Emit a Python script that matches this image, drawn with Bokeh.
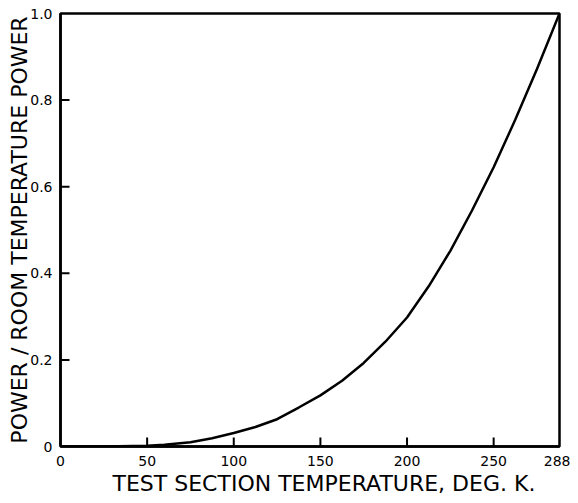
from bokeh.plotting import figure
from bokeh.embed import file_html
from bokeh.resources import INLINE
from bokeh.models import Range1d, FixedTicker, Title

# Data (temperature in K, power ratio)
temperature = [0, 25, 50, 60, 75, 87.5, 100, 112.5, 125, 137.5, 150, 162.5, 175,
               187.5, 200, 212.5, 225, 237.5, 250, 262.5, 275, 288]
power_ratio = [0.0, 0.0, 0.002, 0.004, 0.010, 0.019, 0.031, 0.045, 0.063, 0.09, 0.118,
               0.152, 0.193, 0.242, 0.298, 0.37, 0.452, 0.545, 0.645, 0.755, 0.872, 1.0]

x_ticks = [0, 50, 100, 150, 200, 250, 288]
x_tick_labels = ["0", "50", "100", "150", "200", "250", "288"]
y_ticks = [0, 0.2, 0.4, 0.6, 0.8, 1.0]
y_tick_labels = ["0", "0.2", "0.4", "0.6", "0.8", "1.0"]

FONT = "DejaVu Sans"
X_MAX, Y_MAX = 288, 1.0

W, H = 570, 495
BL, BR, BT, BB = 60, 11, 13, 44
frame_w = W - BL - BR
frame_h = H - BT - BB

p = figure(width=W, height=H, output_backend="svg", toolbar_location=None,
           x_range=Range1d(0, X_MAX), y_range=Range1d(0, Y_MAX),
           min_border_left=BL, min_border_right=BR, min_border_top=BT, min_border_bottom=BB)

p.xgrid.visible = False
p.ygrid.visible = False
p.outline_line_color = "black"
p.outline_line_width = 2.5
p.outline_line_alpha = 1.0

# inward tick marks (drawn from the tick arrays)
tick_len_px = 9
xt = x_ticks[1:-1]
yt = y_ticks[1:-1]
p.segment(x0=xt, y0=[0.0] * len(xt), x1=xt, y1=[tick_len_px / frame_h * Y_MAX] * len(xt),
          line_color="black", line_width=2)
p.segment(x0=[0.0] * len(yt), y0=yt, x1=[tick_len_px / frame_w * X_MAX] * len(yt), y1=yt,
          line_color="black", line_width=2)

p.line(temperature, power_ratio, line_color="black", line_width=2.5)

for ax in (p.xaxis[0], p.yaxis[0]):
    ax.axis_line_color = "black"
    ax.axis_line_width = 2.5
    ax.major_tick_line_color = None
    ax.minor_tick_line_color = None
    ax.major_label_text_font = FONT
    ax.major_label_text_font_size = "14px"
    ax.major_label_text_color = "black"
    ax.axis_label_text_font = FONT
    ax.axis_label_text_font_style = "normal"
    ax.axis_label_text_color = "black"

p.xaxis[0].ticker = FixedTicker(ticks=x_ticks)
p.xaxis[0].major_label_overrides = {t: l for t, l in zip(x_ticks, x_tick_labels)}
p.xaxis[0].major_label_standoff = 3

p.yaxis[0].ticker = FixedTicker(ticks=y_ticks)
p.yaxis[0].major_label_overrides = {t: l for t, l in zip(y_ticks, y_tick_labels)}
p.yaxis[0].major_label_standoff = 2
p.yaxis[0].axis_label = "POWER / ROOM TEMPERATURE POWER"
p.yaxis[0].axis_label_text_font_size = "22px"
p.yaxis[0].axis_label_standoff = -5

xtitle = Title(text="TEST SECTION TEMPERATURE, DEG. K.", align="left", offset=52,
               text_font=FONT, text_font_size="22px", text_font_style="normal",
               text_color="black", standoff=0)
p.add_layout(xtitle, "below")

open("out.html", "w").write(file_html(p, INLINE))
